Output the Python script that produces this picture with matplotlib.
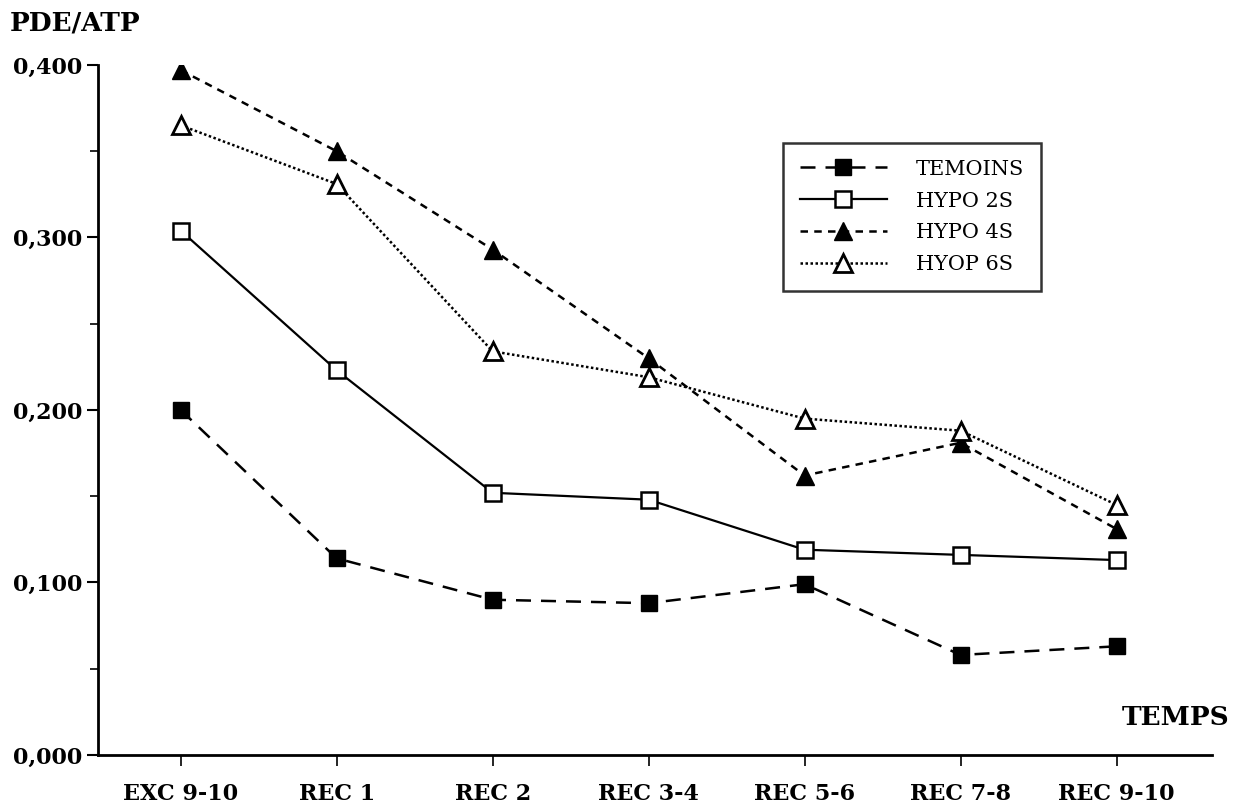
import numpy as np
import matplotlib.pyplot as plt
from matplotlib.ticker import MultipleLocator, FuncFormatter

# donnees
temps = ["EXC 9-10", "REC 1", "REC 2", "REC 3-4", "REC 5-6", "REC 7-8", "REC 9-10"]
temoins = [0.200, 0.114, 0.090, 0.088, 0.099, 0.058, 0.063]
hypo_2s = [0.304, 0.223, 0.152, 0.148, 0.119, 0.116, 0.113]
hypo_4s = [0.397, 0.350, 0.293, 0.230, 0.162, 0.181, 0.131]
hyop_6s = [0.365, 0.331, 0.234, 0.219, 0.195, 0.188, 0.145]

plt.rcParams['font.family'] = ['DejaVu Serif']

fig = plt.figure(figsize=(12.44, 8.10), dpi=100)
ax = fig.add_axes([0.0788, 0.0679, 0.8952, 0.8519])

x = np.arange(len(temps))
ax.plot(x, temoins, color='black', lw=1.8, ls=(0, (6, 4)), marker='s', ms=12,
        mfc='black', mec='black', label='TEMOINS')
ax.plot(x, hypo_2s, color='black', lw=1.6, ls='-', marker='s', ms=12,
        mfc='white', mec='black', mew=1.8, label='HYPO 2S')
ax.plot(x, hypo_4s, color='black', lw=1.8, ls=(0, (3, 2.5)), marker='^', ms=13,
        mfc='black', mec='black', label='HYPO 4S')
ax.plot(x, hyop_6s, color='black', lw=1.8, ls=(0, (1, 1)), marker='^', ms=13,
        mfc='white', mec='black', mew=2, label='HYOP 6S')

ax.set_xlim(-0.53, 6.61)
ax.set_ylim(0, 0.4)
ax.set_xticks(x)
ax.set_xticklabels(temps, fontsize=16, fontweight='bold')
ax.yaxis.set_major_locator(MultipleLocator(0.1))
ax.yaxis.set_minor_locator(MultipleLocator(0.05))
ax.yaxis.set_major_formatter(FuncFormatter(lambda v, p: f"{v:.3f}".replace('.', ',')))
for lab in ax.get_yticklabels():
    lab.set_fontsize(16)
    lab.set_fontweight('bold')
ax.tick_params(axis='y', which='major', direction='out', length=8, width=1.5, pad=3)
ax.tick_params(axis='y', which='minor', direction='out', length=6, width=1.2)
ax.tick_params(axis='x', direction='out', length=8, width=1.2, pad=12)

for s in ['top', 'right']:
    ax.spines[s].set_visible(False)
for s in ['left', 'bottom']:
    ax.spines[s].set_linewidth(2)

fig.text(0.008, 0.972, "PDE/ATP", fontsize=19, fontweight='bold', va='center', ha='left')
fig.text(0.988, 0.114, "TEMPS", fontsize=19, fontweight='bold', va='center', ha='right')

leg = ax.legend(loc='upper left', bbox_to_anchor=(0.615, 0.887), fontsize=15,
                frameon=True, fancybox=False, edgecolor='black', handlelength=4.2,
                borderpad=0.8, labelspacing=0.62, handletextpad=1.4,
                borderaxespad=0)
leg.get_frame().set_linewidth(1.8)

plt.savefig("out.png", dpi=100)
